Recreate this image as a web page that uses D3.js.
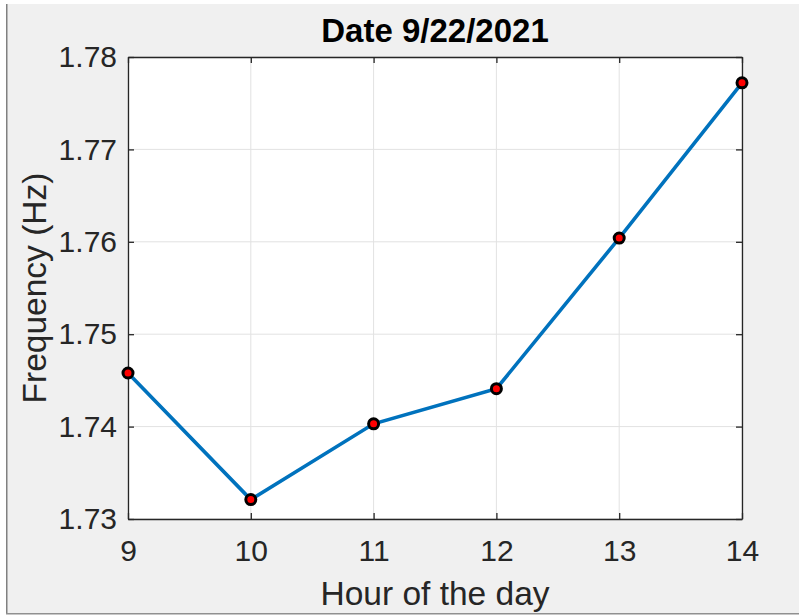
<!DOCTYPE html>
<html lang="en">
<head>
  <meta charset="UTF-8">
  <title>Date 9/22/2021</title>
  <script src="https://d3js.org/d3.v7.min.js"></script>
  <style>
    body { margin: 0; background: #fff; }
    text { font-family: "Liberation Sans", Arial, sans-serif; fill: #262626; }
    text.title { fill: #000; }
  </style>
</head>
<body>
  <script>
    // values
    const hours = [9, 10, 11, 12, 13, 14];
    const freqs = [1.7458, 1.7321, 1.7403, 1.7441, 1.7604, 1.7772];
    const xTicks = [9, 10, 11, 12, 13, 14];
    const yTicks = [1.73, 1.74, 1.75, 1.76, 1.77, 1.78];

    const width = 799, height = 616;
    const m = { left: 128, right: 742, top: 57, bottom: 519 };

    const svg = d3.select("body").append("svg")
      .attr("width", width)
      .attr("height", height);

    // figure window background + frame
    svg.append("rect").attr("x", 6).attr("y", 4).attr("width", width - 6).attr("height", 610).attr("fill", "#f0f0f0");
    svg.append("rect").attr("x", 6).attr("y", 4).attr("width", 1.5).attr("height", 610).attr("fill", "#808080");
    svg.append("rect").attr("x", 6).attr("y", 613).attr("width", width - 6).attr("height", 1.5).attr("fill", "#909090");

    const x = d3.scaleLinear().domain([9, 14]).range([m.left, m.right]);
    const y = d3.scaleLinear().domain([1.73, 1.78]).range([m.bottom, m.top]);

    // axes area
    svg.append("rect")
      .attr("x", m.left).attr("y", m.top)
      .attr("width", m.right - m.left).attr("height", m.bottom - m.top)
      .attr("fill", "#fff");

    // grid
    svg.append("g").selectAll("line").data(xTicks).join("line")
      .attr("x1", d => x(d)).attr("x2", d => x(d))
      .attr("y1", m.top).attr("y2", m.bottom)
      .attr("stroke", "#e2e2e2").attr("stroke-width", 1);
    svg.append("g").selectAll("line").data(yTicks).join("line")
      .attr("x1", m.left).attr("x2", m.right)
      .attr("y1", d => y(d)).attr("y2", d => y(d))
      .attr("stroke", "#e2e2e2").attr("stroke-width", 1);

    const tickLen = 6;
    const fmtX = d3.format("d"), fmtY = d3.format(".2f");
    const tickFont = 30;

    // bottom / top axes, ticks pointing inward
    svg.append("g").attr("transform", `translate(0,${m.bottom})`)
      .call(d3.axisBottom(x).tickValues(xTicks).tickFormat(fmtX).tickSizeInner(-tickLen).tickSizeOuter(0).tickPadding(21))
      .call(g => g.selectAll("text").attr("font-size", tickFont).attr("fill", "#262626").attr("font-family", "Liberation Sans, Arial, sans-serif"));
    svg.append("g").attr("transform", `translate(0,${m.top})`)
      .call(d3.axisTop(x).tickValues(xTicks).tickFormat("").tickSizeInner(-tickLen).tickSizeOuter(0));

    // left / right axes
    svg.append("g").attr("transform", `translate(${m.left},0)`)
      .call(d3.axisLeft(y).tickValues(yTicks).tickFormat(fmtY).tickSizeInner(-tickLen).tickSizeOuter(0).tickPadding(11))
      .call(g => g.selectAll("text").attr("font-size", tickFont).attr("fill", "#262626").attr("font-family", "Liberation Sans, Arial, sans-serif"));
    svg.append("g").attr("transform", `translate(${m.right},0)`)
      .call(d3.axisRight(y).tickValues(yTicks).tickFormat("").tickSizeInner(-tickLen).tickSizeOuter(0));

    svg.selectAll(".domain").attr("stroke", "#262626").attr("stroke-width", 1.3);
    svg.selectAll(".tick line").attr("stroke", "#262626").attr("stroke-width", 1.3);

    // series
    const pts = hours.map((h, i) => ({ h, f: freqs[i] }));
    svg.append("path").datum(pts)
      .attr("fill", "none")
      .attr("stroke", "#0072bd")
      .attr("stroke-width", 3.6)
      .attr("d", d3.line().x(d => x(d.h)).y(d => y(d.f)));

    svg.append("g").selectAll("circle").data(pts).join("circle")
      .attr("cx", d => x(d.h)).attr("cy", d => y(d.f))
      .attr("r", 5)
      .attr("fill", "#ff0000")
      .attr("stroke", "#000")
      .attr("stroke-width", 3);

    // labels
    svg.append("text")
      .attr("class", "title")
      .attr("x", (m.left + m.right) / 2).attr("y", 42)
      .attr("text-anchor", "middle")
      .attr("font-size", 33).attr("font-weight", "bold")
      .text("Date 9/22/2021");

    svg.append("text")
      .attr("x", (m.left + m.right) / 2).attr("y", 605)
      .attr("text-anchor", "middle")
      .attr("font-size", 33.5)
      .text("Hour of the day");

    svg.append("text")
      .attr("transform", `translate(46,${(m.top + m.bottom) / 2}) rotate(-90)`)
      .attr("text-anchor", "middle")
      .attr("font-size", 33.5)
      .text("Frequency (Hz)");
  </script>
</body>
</html>
